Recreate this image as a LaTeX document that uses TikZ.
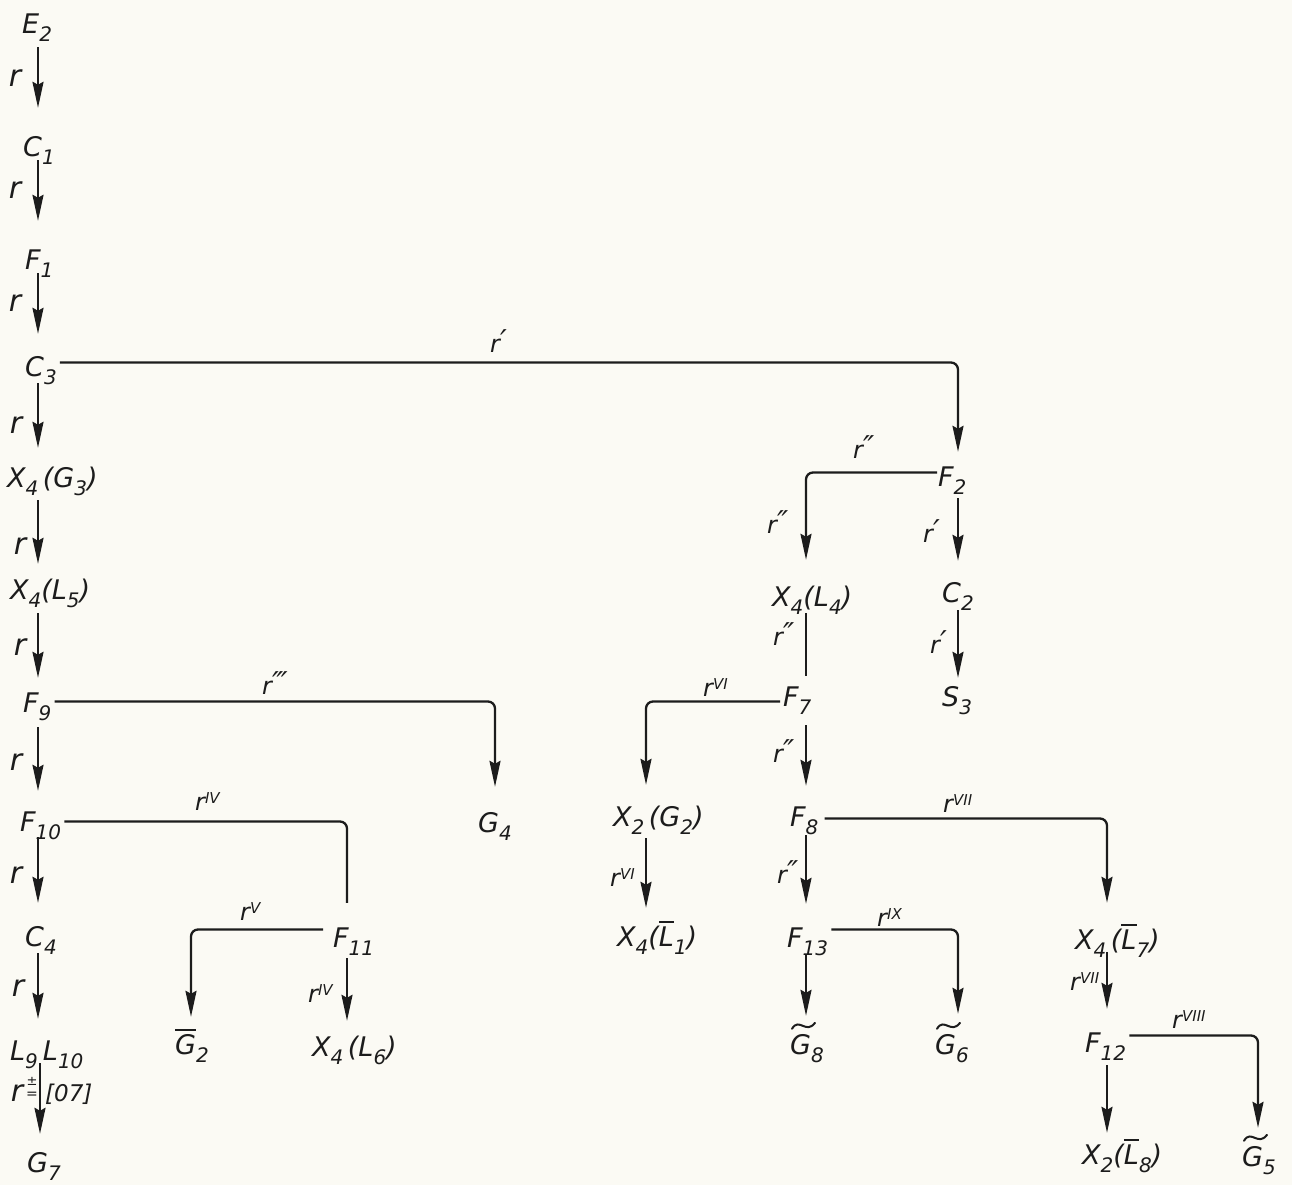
\documentclass[tikz,border=0pt]{standalone}
\usepackage{fontspec}
\setmainfont{DejaVu Sans}
\usetikzlibrary{arrows.meta}
\definecolor{ink}{HTML}{1C1C1C}
\definecolor{paper}{HTML}{FBFAF4}
% lowered index and overline for the state names
\newcommand\lowix[1]{\raisebox{-8pt}{\fontsize{20}{20}\selectfont #1}}
\newcommand\ovl[1]{\vbox{\hrule height 1.9pt\kern 3pt\hbox{#1}}}
% transition label r with a raised roman numeral, or with primes
\newcommand\rs[1]{r\raisebox{7pt}{\fontsize{15}{15}\selectfont #1}}
\newcommand\rp[1]{r\raisebox{1pt}{\fontsize{30}{30}\selectfont #1}}
% wavy tilde drawn over the first letter of a node
\newcommand\tildeover[1]{%
  \draw[ink, line width=2pt, line cap=round]
    ([shift={(2pt,6pt)}]#1.north west)
    .. controls ([shift={(9pt,18pt)}]#1.north west)
    and ([shift={(16pt,0pt)}]#1.north west)
    .. ([shift={(25pt,12pt)}]#1.north west);}
\begin{document}
\begin{tikzpicture}[x=1pt,y=-1pt,
  every node/.style={inner sep=0pt, text=ink},
  term/.style={anchor=base west, text height=19pt, text depth=0pt,
    font=\fontsize{27}{32}\selectfont\itshape},
  rlab/.style={anchor=base west, font=\fontsize{24}{28}\selectfont\itshape},
  rbig/.style={anchor=center, font=\fontsize{30}{34}\selectfont\itshape},
  conn/.style={line width=2.3pt, draw=ink},
  arr/.style={conn, -{Stealth[length=26pt,width=11pt,inset=3pt]}},
  elbow/.style={rounded corners=7pt}]

\fill[paper] (0,0) rectangle (1292,1185);
\useasboundingbox (0,0) rectangle (1292,1185);

% column positions of the vertical connectors
\coordinate (cA) at (38,0);
\coordinate (cA2) at (40,0);
\coordinate (cG4) at (495,0);
\coordinate (cF11) at (347,0);
\coordinate (cG2) at (191,0);
\coordinate (cF2) at (958,0);
\coordinate (cM) at (806,0);
\coordinate (cXG2) at (646,0);
\coordinate (cXL7) at (1107,0);
\coordinate (cG6) at (958,0);
\coordinate (cG5) at (1258,0);

% states
\node[term] (E2) at (22,34) {E\lowix{2}};
\node[term] (C1) at (23,157) {C\lowix{1}};
\node[term] (F1) at (25,269) {F\lowix{1}};
\node[term] (C3) at (25,376) {C\lowix{3}};
\node[term] (XG3) at (7,487) {X\lowix{4}\,(G\lowix{3})};
\node[term] (XL5) at (10,599) {X\lowix{4}(L\lowix{5})};
\node[term] (F9) at (23,712) {F\lowix{9}};
\node[term] (F10) at (20,831) {F\lowix{10}};
\node[term] (C4) at (25,946) {C\lowix{4}};
\node[term] (L) at (10,1060) {L\lowix{9}\hspace{5pt}L\lowix{10}};
\node[term] (G7) at (27,1172) {G\lowix{7}};
\node[term] (G4) at (478,832) {G\lowix{4}};
\node[term] (F11) at (333,947) {F\lowix{11}};
\node[term] (G2b) at (175,1054) {\ovl{G}\lowix{2}};
\node[term] (XL6) at (312,1056) {X\lowix{4}\,(L\lowix{6})};
\node[term] (F2) at (938,486) {F\lowix{2}};
\node[term] (XL4) at (772,606) {X\lowix{4}(L\lowix{4})};
\node[term] (C2) at (942,602) {C\lowix{2}};
\node[term] (S3) at (942,706) {S\lowix{3}};
\node[term] (F7) at (783,706) {F\lowix{7}};
\node[term] (XG2) at (613,826) {X\lowix{2}\,(G\lowix{2})};
\node[term] (F8) at (790,826) {F\lowix{8}};
\node[term] (XL1) at (617,946) {X\lowix{4}(\ovl{L}\lowix{1})};
\node[term] (F13) at (787,947) {F\lowix{13}};
\node[term] (XL7) at (1075,949) {X\lowix{4}\,(\ovl{L}\lowix{7})};
\node[term] (G8) at (790,1054) {G\lowix{8}};
\node[term] (G6) at (935,1054) {G\lowix{6}};
\node[term] (F12) at (1085,1052) {F\lowix{12}};
\node[term] (XL8) at (1082,1164) {X\lowix{2}(\ovl{L}\lowix{8})};
\node[term] (G5) at (1242,1166) {G\lowix{5}};
\tildeover{G8}
\tildeover{G6}
\tildeover{G5}

% main chain on the left
\draw[arr, shorten <=13pt, shorten >=30pt] (E2.south -| cA) -- (C1.north -| cA);
\draw[arr, shorten <=3pt, shorten >=29pt] (C1.south -| cA) -- (F1.north -| cA);
\draw[arr, shorten <=4pt, shorten >=23pt] (F1.south -| cA) -- (C3.north -| cA);
\draw[arr, shorten <=7pt, shorten >=20pt] (C3.south -| cA) -- (XG3.north -| cA);
\draw[arr, shorten <=13pt, shorten >=16pt] (XG3.south -| cA) -- (XL5.north -| cA);
\draw[arr, shorten <=14pt, shorten >=15pt] (XL5.south -| cA) -- (F9.north -| cA);
\draw[arr, shorten <=15pt, shorten >=21pt] (F9.south -| cA) -- (F10.north -| cA);
\draw[arr, shorten <=6pt, shorten >=24pt] (F10.south -| cA) -- (C4.north -| cA);
\draw[arr, shorten <=7pt, shorten >=22pt] (C4.south -| cA) -- (L.north -| cA);
\draw[arr, shorten <=3pt, shorten >=19pt] (L.south -| cA2) -- (G7.north -| cA2);

\node[rbig] (r1) at (15,78) {r};
\node[rbig] (r2) at (15,190) {r};
\node[rbig] (r3) at (15,303) {r};
\node[rbig] (r4) at (16,425) {r};
\node[rbig] (r5) at (20,546) {r};
\node[rbig] (r6) at (20,647) {r};
\node[rbig] (r7) at (16,762) {r};
\node[rbig] (r8) at (16,875) {r};
\node[rbig] (r9) at (18,988) {r};
\node[rbig] (r10) at (17,1093) {r};
\node (r10a) at (32,1081) {\fontsize{13}{13}\selectfont\itshape ±};
\node (r10b) at (32,1095) {\fontsize{14}{14}\selectfont =};
\node[anchor=base west] (r10c) at (45,1101) {\fontsize{23}{26}\selectfont\itshape [07]};

% branches to the right
\draw[arr, elbow, shorten >=15pt] ([xshift=3pt,yshift=4pt]C3.east) -| (F2.north -| cF2);
\node[rlab] (rC3) at (490,352) {\rp{′}};

\draw[arr, elbow, shorten >=26pt] ([xshift=3pt,yshift=1pt]F9.east) -| (G4.north -| cG4);
\node[rlab] (rF9) at (262,694) {\rp{‴}};

\draw[conn, elbow, shorten >=25pt] ([xshift=3pt]F10.east) -| (F11.north -| cF11);
\node[rlab] (rF10) at (195,810) {\rs{IV}};

\draw[arr, elbow, shorten >=18pt] ([xshift=-10pt,yshift=8pt]F11.west) -| (G2b.north -| cG2);
\node[rlab] (rF11) at (240,920) {\rs{V}};
\draw[arr, shorten <=11pt, shorten >=16pt] (F11.south -| cF11) -- (XL6.north -| cF11);
\node[rlab] (rF11b) at (308,1002) {\rs{IV}};

% right part of the tree
\draw[arr, elbow, shorten >=27pt] ([xshift=-1pt,yshift=4pt]F2.west) -| (XL4.north -| cM);
\node[rlab] (rF2a) at (853,458) {\rp{″}};
\node[rlab] (rF2b) at (767,533) {\rp{″}};
\draw[arr, shorten <=12pt, shorten >=22pt] (F2.south -| cF2) -- (C2.north -| cF2);
\node[rlab] (rF2c) at (923,542) {\rp{′}};
\draw[arr, shorten <=8pt, shorten >=9pt] (C2.south -| cF2) -- (S3.north -| cF2);
\node[rlab] (rC2) at (930,653) {\rp{′}};

\draw[conn, shorten <=7pt, shorten >=11pt] (XL4.south -| cM) -- (F7.north -| cM);
\node[rlab] (rXL4) at (773,645) {\rp{″}};

\draw[arr, elbow, shorten >=22pt] ([xshift=-3pt,yshift=-5pt]F7.west) -| (XG2.north -| cXG2);
\node[rlab] (rF7a) at (703,696) {\rs{VI}};
\draw[arr, shorten <=19pt, shorten >=21pt] (F7.south -| cM) -- (F8.north -| cM);
\node[rlab] (rF7b) at (773,762) {\rp{″}};

\draw[arr, shorten <=12pt, shorten >=19pt] (XG2.south -| cXG2) -- (XL1.north -| cXG2);
\node[rlab] (rXG2) at (610,886) {\rs{VI}};

\draw[arr, elbow, shorten >=27pt] ([xshift=6pt,yshift=-2pt]F8.east) -| (XL7.north -| cXL7);
\node[rlab] (rF8a) at (943,812) {\rs{VII}};
\draw[arr, shorten <=9pt, shorten >=24pt] (F8.south -| cM) -- (F13.north -| cM);
\node[rlab] (rF8b) at (777,883) {\rp{″}};

\draw[arr, elbow, shorten >=21pt] ([xshift=3pt,yshift=8pt]F13.east) -| (G6.north -| cG6);
\node[rlab] (rF13) at (877,926) {\rs{IX}};
\draw[arr, shorten <=8pt, shorten >=19pt] (F13.south -| cM) -- (G8.north -| cM);

\draw[arr, shorten <=3pt, shorten >=24pt] (XL7.south -| cXL7) -- (F12.north -| cXL7);
\node[rlab] (rXL7) at (1070,990) {\rs{VII}};

\draw[arr, elbow, shorten >=19pt] ([xshift=3pt,yshift=7pt]F12.east) -| (G5.north -| cG5);
\node[rlab] (rF12) at (1172,1028) {\rs{VIII}};
\draw[arr, shorten <=13pt, shorten >=12pt] (F12.south -| cXL7) -- (XL8.north -| cXL7);
\end{tikzpicture}
\end{document}
